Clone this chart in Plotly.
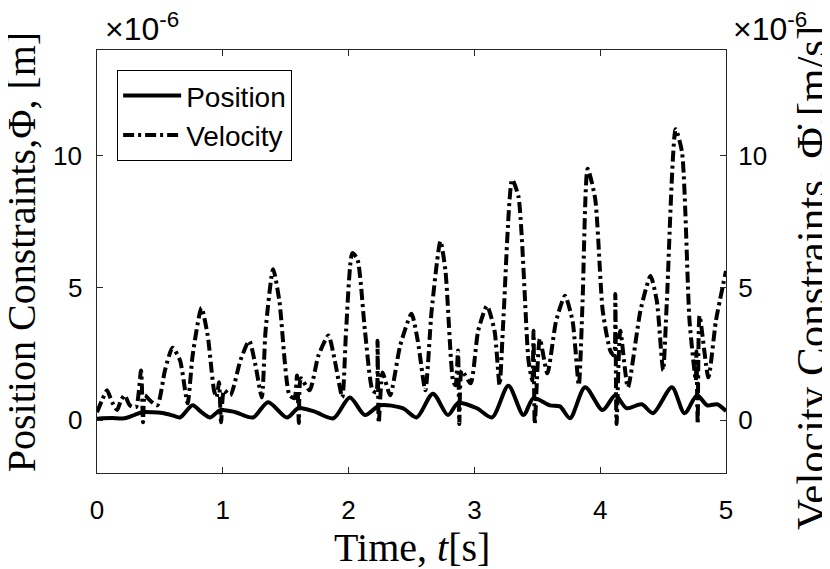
import plotly.graph_objects as go

# Time [s] and constraint values in units of 1e-6
pos_t = [0.00, 0.04, 0.12, 0.22, 0.30, 0.36, 0.44, 0.52, 0.60, 0.66, 0.76, 0.83, 0.90,
         0.98, 1.10, 1.24, 1.36, 1.51, 1.60, 1.73, 1.88, 2.01, 2.13, 2.25, 2.43, 2.54, 2.67,
         2.79, 2.87, 3.02, 3.14, 3.27, 3.39, 3.47, 3.60, 3.68, 3.76, 3.88, 4.02, 4.12, 4.21,
         4.33, 4.42, 4.57, 4.67, 4.77, 4.85, 4.93, 5.00]
pos_v = [0.05, 0.07, 0.08, 0.07, 0.20, 0.30, 0.30, 0.27, 0.18, 0.10, 0.56, 0.30, 0.10,
         0.38, 0.30, 0.10, 0.68, 0.10, 0.45, 0.32, 0.07, 0.86, 0.19, 0.56, 0.45, 0.10, 1.00,
         0.19, 0.64, 0.45, 0.10, 1.30, 0.19, 0.83, 0.56, 0.52, 0.07, 1.24, 0.38, 0.94, 0.45,
         0.60, 0.26, 1.24, 0.26, 0.94, 0.56, 0.60, 0.34]

vel_t = [0.00, 0.04, 0.08, 0.12, 0.16, 0.19, 0.22, 0.26, 0.31, 0.35, 0.366, 0.38, 0.42, 0.48,
         0.54, 0.60, 0.66, 0.72, 0.76, 0.83, 0.88, 0.93, 0.95, 0.97, 0.986, 1.01, 1.06, 1.14,
         1.21, 1.26, 1.31, 1.34, 1.40, 1.45, 1.53, 1.57, 1.59, 1.605, 1.62, 1.69, 1.76, 1.84,
         1.89, 1.95, 1.98, 2.03, 2.07, 2.13, 2.19, 2.22, 2.23, 2.24, 2.27, 2.33, 2.41, 2.50,
         2.55, 2.61, 2.66, 2.73, 2.77, 2.83, 2.85, 2.87, 2.88, 2.90, 2.97, 3.03, 3.10, 3.16,
         3.20, 3.23, 3.30, 3.35, 3.43, 3.46, 3.47, 3.48, 3.52, 3.58, 3.65, 3.72, 3.78, 3.83,
         3.86, 3.90, 3.96, 4.02, 4.08, 4.11, 4.12, 4.13, 4.16, 4.22, 4.32, 4.40, 4.45, 4.50,
         4.53, 4.60, 4.65, 4.71, 4.76, 4.765, 4.775, 4.79, 4.86, 4.92, 5.00]
vel_v = [0.30, 0.75, 1.13, 0.68, 0.38, 0.75, 0.94, 0.56, 0.49, 1.88, -0.08, 0.94, 0.75, 0.56,
         1.88, 2.74, 2.26, 0.64, 2.44, 4.25, 3.20, 1.13, 0.86, 1.43, -0.08, 1.13, 0.94, 2.26,
         3.00, 2.07, 0.86, 3.38, 5.71, 4.50, 0.94, 0.83, 1.69, -0.11, 1.58, 1.13, 2.44, 3.20,
         2.26, 0.86, 3.38, 6.32, 6.09, 3.38, 1.13, 1.05, 3.00, -0.11, 1.80, 0.94, 2.82, 4.02,
         3.00, 1.13, 4.14, 6.77, 5.64, 1.50, 1.32, 2.63, -0.15, 1.88, 1.39, 3.38, 4.32, 3.38,
         1.32, 3.76, 9.10, 8.46, 2.26, 1.50, 3.38, -0.15, 3.08, 1.77, 3.76, 4.70, 3.76, 1.32,
         4.51, 9.51, 8.38, 4.14, 2.63, 2.44, 4.77, -0.15, 3.38, 1.24, 4.14, 5.45, 4.51, 1.88,
         4.51, 11.00, 10.15, 3.76, 1.50, 2.60, -0.15, 3.95, 1.62, 3.76, 5.64]

y_ticks = [0, 5, 10]
x_ticks = [0, 1, 2, 3, 4, 5]

AX = "#262626"
tick_font = dict(family="Liberation Sans, Arial, sans-serif", size=26, color="#000000")
title_font = dict(family="Liberation Serif, Times New Roman, serif", size=40, color="#000000")
title_font_r = dict(family="Liberation Serif, Times New Roman, serif", size=43, color="#000000")
exp_font = dict(family="Liberation Sans, Arial, sans-serif", size=32, color="#000000")

fig = go.Figure()
fig.add_trace(go.Scatter(x=pos_t, y=pos_v, name="Position", mode="lines",
                         line=dict(color="black", width=4, shape="spline", smoothing=0.8)))
fig.add_trace(go.Scatter(x=vel_t, y=vel_v, name="Velocity", mode="lines", yaxis="y2",
                         line=dict(color="black", width=4, dash="11px,4px,3px,4px",
                                   shape="spline", smoothing=0.6)))

annotations = [
    dict(text="Time, <i>t</i>[s]", xref="paper", yref="paper", x=0.5, y=0,
         yshift=-74, xanchor="center", yanchor="middle", showarrow=False, font=title_font),
    dict(text="Position Constraints,Φ, [m]", xref="paper", yref="paper",
         x=0, xshift=-76, y=0.522, textangle=-90, xanchor="center", yanchor="middle",
         showarrow=False, font=title_font),
    dict(text="Velocity Constraints, Φ̇,[m/s]", xref="paper", yref="paper",
         x=1, xshift=86, y=0.461, textangle=-90, xanchor="center", yanchor="middle",
         showarrow=False, font=title_font_r),
    dict(text="×10<sup>-6</sup>", xref="paper", yref="paper", x=0, xshift=6, y=1,
         yshift=1, xanchor="left", yanchor="bottom", showarrow=False, font=exp_font),
    dict(text="×10<sup>-6</sup>", xref="paper", yref="paper", x=1, xshift=5, y=1,
         yshift=1, xanchor="left", yanchor="bottom", showarrow=False, font=exp_font),
]
# left-axis tick labels, placed at the tick values
for v in y_ticks:
    annotations.append(dict(text=str(v), xref="paper", yref="y", x=0, y=v, xshift=-13,
                            xanchor="right", yanchor="middle", showarrow=False, font=tick_font))

fig.update_layout(
    width=822, height=561,
    margin=dict(l=89, r=104, t=42, b=96),
    paper_bgcolor="white", plot_bgcolor="white",
    showlegend=True,
    legend=dict(x=0.032, y=0.953, xanchor="left", yanchor="top",
                bgcolor="white", bordercolor="black", borderwidth=1,
                font=dict(family="Liberation Sans, Arial, sans-serif", size=28, color="black"),
                itemwidth=58, tracegroupgap=0),
    xaxis=dict(range=[0, 5], tickvals=x_ticks, ticks="inside", ticklen=6, tickcolor=AX,
               showline=True, linecolor=AX, linewidth=1, mirror="ticks", showgrid=False,
               zeroline=False, tickfont=tick_font, ticklabelstandoff=14),
    yaxis=dict(range=[-2, 14], tickvals=y_ticks, ticks="inside", ticklen=6, tickcolor=AX,
               showline=True, linecolor=AX, linewidth=1, mirror=True, showgrid=False,
               zeroline=False, showticklabels=False),
    yaxis2=dict(range=[-2, 14], tickvals=y_ticks, ticks="inside", ticklen=6, tickcolor=AX,
                overlaying="y", side="right", showline=True, linecolor=AX, linewidth=1,
                showgrid=False, zeroline=False, tickfont=tick_font, ticklabelstandoff=6),
    annotations=annotations,
)

fig.write_html("out.html")
